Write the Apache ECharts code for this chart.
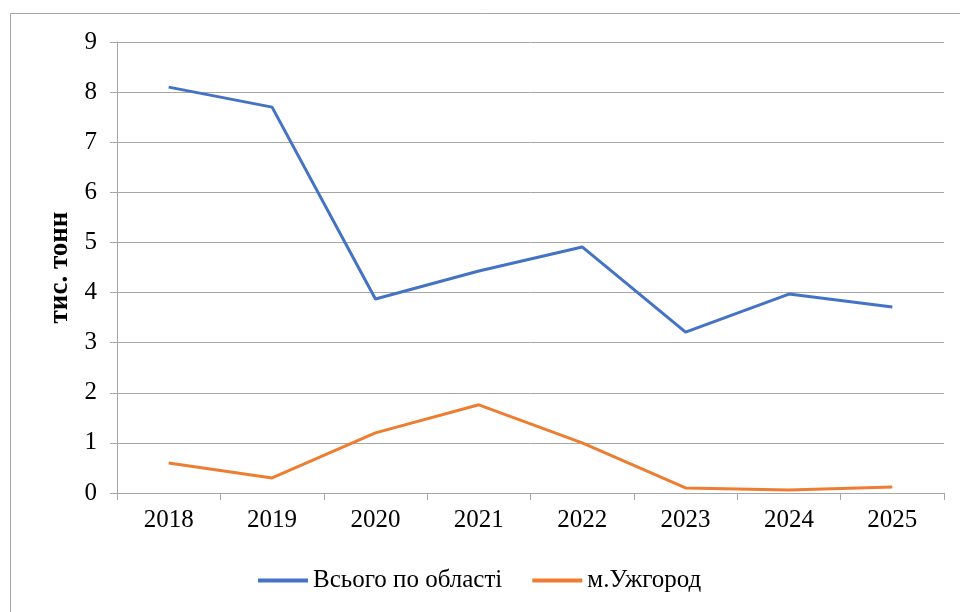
<!DOCTYPE html>
<html>
<head>
<meta charset="utf-8">
<script src="https://cdn.jsdelivr.net/npm/echarts@6/dist/echarts.min.js"></script>
<style>html,body{margin:0;padding:0;background:#fff;}#c{width:960px;height:612px;}</style>
</head>
<body>
<div id="c"></div>
<script>
const categories = ['2018','2019','2020','2021','2022','2023','2024','2025'];
const totalRegion = [8.10, 7.70, 3.87, 4.43, 4.91, 3.21, 3.97, 3.71];
const uzhhorod = [0.60, 0.30, 1.20, 1.76, 1.00, 0.10, 0.06, 0.12];
const seriesNames = ['Всього по області', 'м.Ужгород'];
const yAxisTitle = 'тис. тонн';

const font = '"Liberation Serif", "Times New Roman", serif';
const chart = echarts.init(document.getElementById('c'), null, {renderer: 'canvas'});
chart.setOption({
  animation: false,
  backgroundColor: '#fff',
  graphic: [{
    type: 'rect', silent: true,
    shape: {x: 10.5, y: 13.5, width: 1000, height: 700},
    style: {fill: 'none', stroke: '#a6a6a6', lineWidth: 1}
  }],
  grid: {left: 117, right: 16, top: 42, bottom: 119},
  legend: {
    bottom: 14, left: 253,
    itemWidth: 50, itemHeight: 4, itemGap: 30,
    icon: 'rect',
    textStyle: {fontFamily: font, fontSize: 25, color: '#000'},
    data: seriesNames
  },
  xAxis: {
    type: 'category', data: categories, boundaryGap: true,
    axisLine: {lineStyle: {color: '#a6a6a6', width: 1}},
    axisTick: {show: true, length: 7, lineStyle: {color: '#a6a6a6'}},
    axisLabel: {fontFamily: font, fontSize: 25, color: '#000', margin: 15}
  },
  yAxis: {
    type: 'value', min: 0, max: 9, interval: 1,
    name: yAxisTitle, nameLocation: 'middle', nameGap: 38, nameRotate: 90,
    nameTextStyle: {fontFamily: font, fontSize: 27, fontWeight: 'bold', color: '#000'},
    axisLine: {show: true, lineStyle: {color: '#a6a6a6', width: 1}},
    axisTick: {show: true, length: 7, lineStyle: {color: '#a6a6a6'}},
    splitLine: {lineStyle: {color: '#a6a6a6', width: 1}},
    axisLabel: {fontFamily: font, fontSize: 25, color: '#000', margin: 20}
  },
  series: [
    {name: seriesNames[0], type: 'line', data: totalRegion, symbol: 'none',
     lineStyle: {color: '#4472C4', width: 3}, itemStyle: {color: '#4472C4'}},
    {name: seriesNames[1], type: 'line', data: uzhhorod, symbol: 'none',
     lineStyle: {color: '#ED7D31', width: 3}, itemStyle: {color: '#ED7D31'}}
  ]
});
</script>
</body>
</html>
